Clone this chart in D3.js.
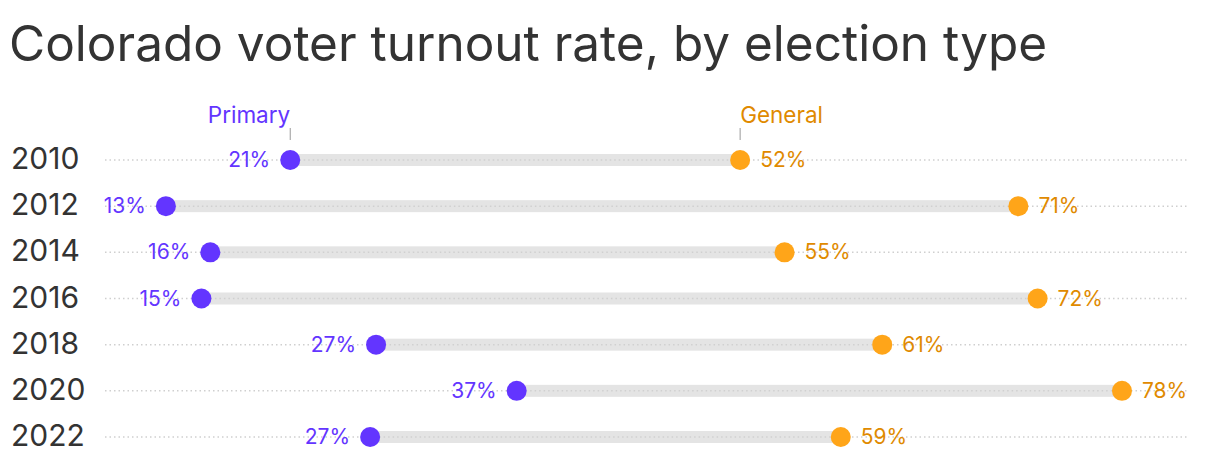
<!DOCTYPE html>
<html>
<head>
<meta charset="utf-8">
<script src="https://cdn.jsdelivr.net/npm/d3@7.9.0/dist/d3.min.js"></script>
<style>
  body { margin: 0; background: #fff; }
  svg { font-family: Inter, "Noto Sans", sans-serif; }
</style>
</head>
<body>
<div id="chart"></div>
<script>
// turnout data
const years = ["2010", "2012", "2014", "2016", "2018", "2020", "2022"];
const primary = [21.4, 13.0, 16.0, 15.4, 27.2, 36.7, 26.8];
const general = [51.8, 70.6, 54.8, 71.9, 61.4, 77.6, 58.6];
const seriesNames = ["Primary", "General"];

const width = 1220, height = 474;
const purple = "#6335ff", orange = "#ffa519", orangeText = "#e08a00";

const svg = d3.select("#chart")
  .append("svg")
    .attr("width", width)
    .attr("height", height);

// title
svg.append("text")
    .attr("x", 9)
    .attr("y", 61)
    .style("font-size", "49.5px")
    .style("fill", "#333")
    .text("Colorado voter turnout rate, by election type");

const x = d3.scaleLinear()
    .domain([10, 80])
    .range([121.5, 1157.5]);

const y = d3.scalePoint()
    .domain(years)
    .range([160, 437]);

const data = years.map((yr, i) => ({year: yr, p: primary[i], g: general[i]}));

// year labels
svg.selectAll(".year")
  .data(years)
  .join("text")
    .attr("class", "year")
    .attr("x", 11)
    .attr("y", d => y(d) + 9)
    .style("font-size", "30px")
    .style("fill", "#333")
    .text(d => d);

// dotted guide lines
svg.selectAll(".guide")
  .data(years)
  .join("line")
    .attr("x1", 105)
    .attr("x2", 1188)
    .attr("y1", d => y(d))
    .attr("y2", d => y(d))
    .attr("stroke", "#cfcfcf")
    .attr("stroke-width", 1.5)
    .attr("stroke-dasharray", "1.5,3");

// gray bars between the two values
svg.selectAll(".bar")
  .data(data)
  .join("rect")
    .attr("x", d => x(d.p))
    .attr("y", d => y(d.year) - 6)
    .attr("width", d => x(d.g) - x(d.p))
    .attr("height", 12)
    .attr("fill", "#e4e4e4");

// dotted line shows through the bar in the original
svg.selectAll(".guide2")
  .data(data)
  .join("line")
    .attr("x1", d => x(d.p))
    .attr("x2", d => x(d.g))
    .attr("y1", d => y(d.year))
    .attr("y2", d => y(d.year))
    .attr("stroke", "#d0d0d0")
    .attr("stroke-width", 1.5)
    .attr("stroke-dasharray", "1.5,3");

svg.selectAll(".pdot")
  .data(data)
  .join("circle")
    .attr("cx", d => x(d.p))
    .attr("cy", d => y(d.year))
    .attr("r", 10)
    .attr("fill", purple);

svg.selectAll(".gdot")
  .data(data)
  .join("circle")
    .attr("cx", d => x(d.g))
    .attr("cy", d => y(d.year))
    .attr("r", 10)
    .attr("fill", orange);

const fmt = v => Math.round(v) + "%";

svg.selectAll(".plab")
  .data(data)
  .join("text")
    .attr("x", d => x(d.p) - 20)
    .attr("y", d => y(d.year) + 7)
    .attr("text-anchor", "end")
    .style("font-size", "21px")
    .style("fill", purple)
    .text(d => fmt(d.p));

svg.selectAll(".glab")
  .data(data)
  .join("text")
    .attr("x", d => x(d.g) + 20)
    .attr("y", d => y(d.year) + 7)
    .style("font-size", "21px")
    .style("fill", orangeText)
    .text(d => fmt(d.g));

// series labels above first row
const first = data[0];
const tickTop = 128, tickBottom = 140;
[[first.p, "end", purple], [first.g, "start", orangeText]].forEach((s, i) => {
  svg.append("line")
      .attr("x1", x(s[0])).attr("x2", x(s[0]))
      .attr("y1", tickTop).attr("y2", tickBottom)
      .attr("stroke", "#999")
      .attr("stroke-width", 1);
  svg.append("text")
      .attr("x", x(s[0]))
      .attr("y", 123)
      .attr("text-anchor", s[1])
      .style("font-size", "22.5px")
      .style("fill", s[2])
      .text(seriesNames[i]);
});
</script>
</body>
</html>
